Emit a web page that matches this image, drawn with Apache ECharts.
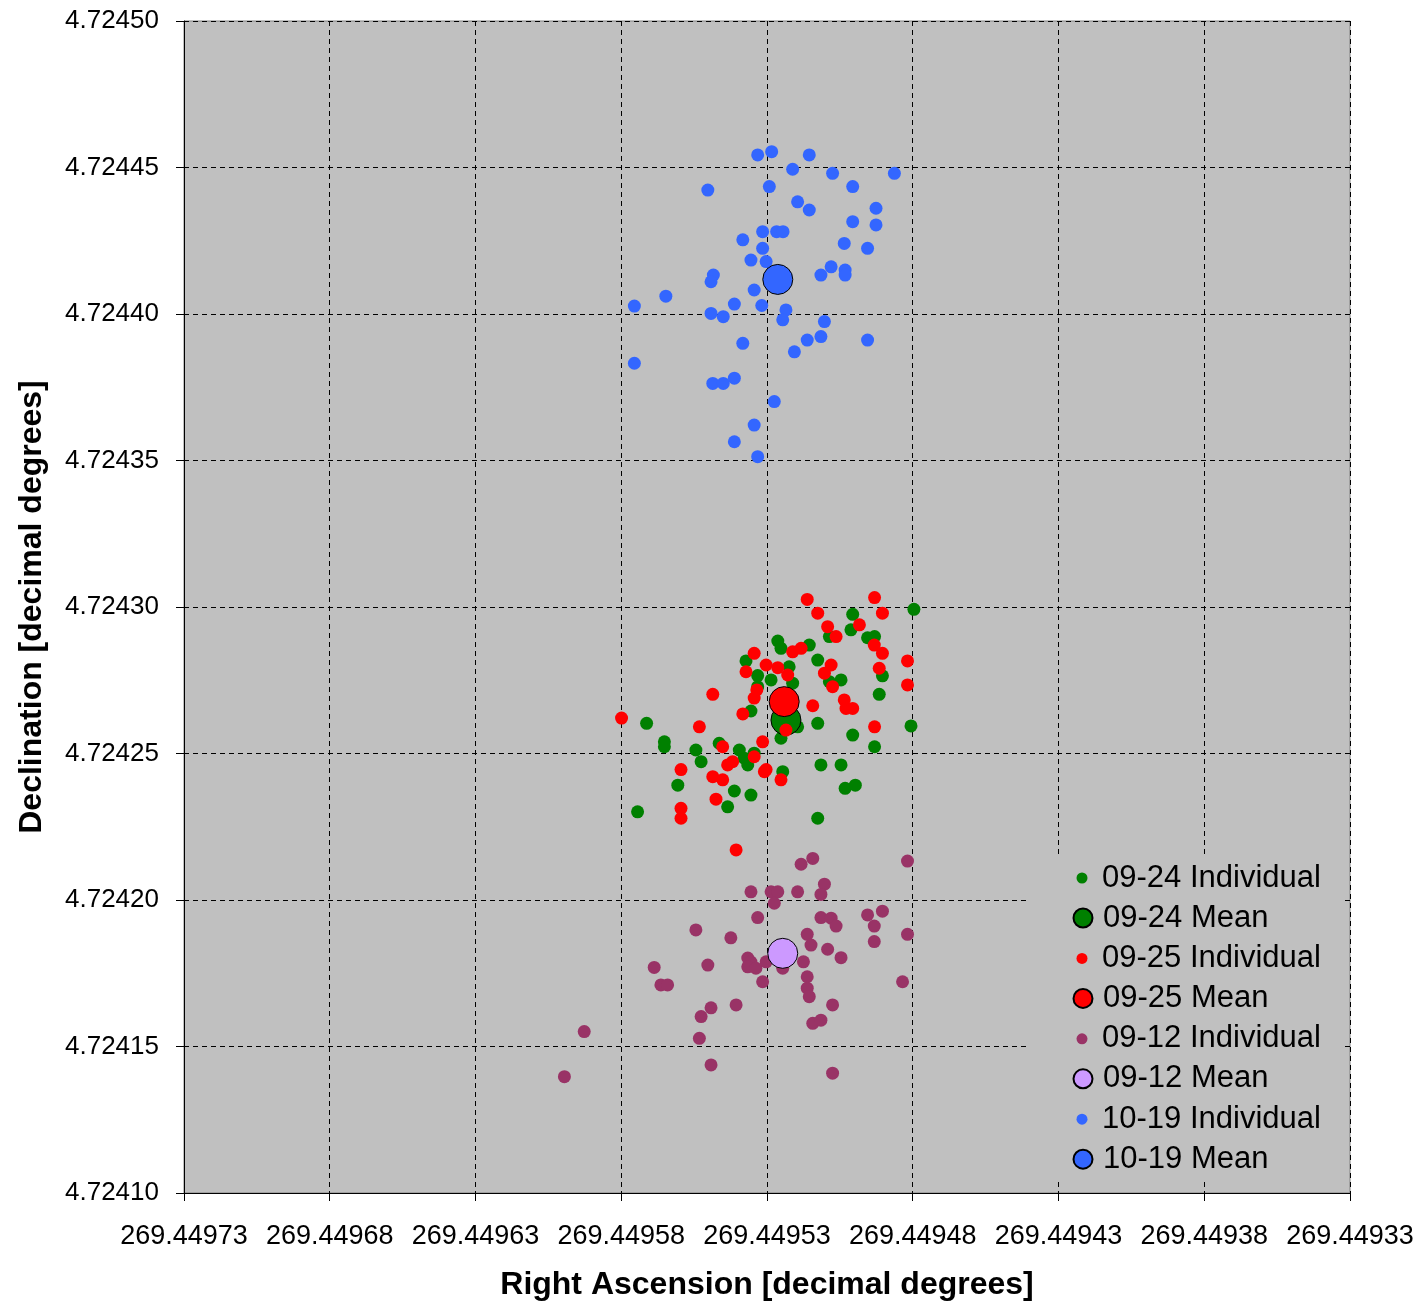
<!DOCTYPE html>
<html>
<head>
<meta charset="utf-8">
<script src="https://cdn.jsdelivr.net/npm/echarts@6/dist/echarts.min.js"></script>
<style>
html,body{margin:0;padding:0;background:#fff;}
#chart{width:1422px;height:1304px;}
</style>
</head>
<body>
<div id="chart"></div>
<script>
// ---- data: [Right Ascension, Declination] in decimal degrees ----
const seriesNames = ['09-24 Individual','09-24 Mean','09-25 Individual','09-25 Mean','09-12 Individual','09-12 Mean','10-19 Individual','10-19 Mean'];
const xTicks = [269.44933,269.44938,269.44943,269.44948,269.44953,269.44958,269.44963,269.44968,269.44973];
const yTicks = [4.72410,4.72415,4.72420,4.72425,4.72430,4.72435,4.72440,4.72445,4.72450];

const ind0924 = [
[269.4495006,4.7242975],[269.4494796,4.7242992],[269.4495012,4.7242922],[269.4495086,4.7242899],
[269.4494955,4.7242895],[269.4494931,4.7242899],[269.4495263,4.7242884],[269.4495252,4.7242859],
[269.4495155,4.7242870],[269.4495126,4.7242819],[269.4495372,4.7242816],[269.4495224,4.7242796],
[269.4495332,4.7242766],[269.4495286,4.7242751],[269.4495212,4.7242740],[269.4495046,4.7242751],
[269.4494904,4.7242765],[269.4495086,4.7242745],[269.4495332,4.7242728],[269.4494915,4.7242702],
[269.4495355,4.7242645],[269.4495713,4.7242603],[269.4495126,4.7242603],[269.4494806,4.7242594],
[269.4495195,4.7242591],[269.4495252,4.7242552],[269.4495006,4.7242563],[269.4495652,4.7242540],
[269.4495652,4.7242523],[269.4494931,4.7242523],[269.4495544,4.7242512],[269.4495464,4.7242535],
[269.4495395,4.7242512],[269.4495378,4.7242484],[269.4495366,4.7242461],[269.4495344,4.7242501],
[269.4495526,4.7242472],[269.4495115,4.7242461],[269.4495046,4.7242461],[269.4495246,4.7242438],
[269.4495606,4.7242392],[269.4495032,4.7242381],[269.4494997,4.7242392],[269.4495412,4.7242372],
[269.4495355,4.7242358],[269.4495435,4.7242318],[269.4495744,4.7242301],[269.4495126,4.7242279]
];
const mean0924 = [[269.4495235,4.7242614]];

const ind0925 = [
[269.4495162,4.7243026],[269.4494931,4.7243032],[269.4495126,4.7242979],[269.4494904,4.7242979],
[269.4495092,4.7242933],[269.4494983,4.7242939],[269.4495063,4.7242899],[269.4494932,4.7242870],
[269.4495344,4.7242842],[269.4495212,4.7242847],[269.4495183,4.7242859],[269.4494904,4.7242842],
[269.4494818,4.7242816],[269.4495303,4.7242802],[269.4495263,4.7242793],[269.4495080,4.7242802],
[269.4495103,4.7242774],[269.4494915,4.7242791],[269.4495372,4.7242779],[269.4495229,4.7242768],
[269.4494818,4.7242734],[269.4495075,4.7242728],[269.4495486,4.7242702],[269.4495344,4.7242689],
[269.4495335,4.7242717],[269.4495035,4.7242683],[269.4495029,4.7242654],[269.4495006,4.7242654],
[269.4495143,4.7242663],[269.4495799,4.7242621],[269.4495383,4.7242635],[269.4495532,4.7242591],
[269.4494931,4.7242591],[269.4495235,4.7242580],[269.4495315,4.7242540],[269.4495452,4.7242523],
[269.4495344,4.7242489],[269.4495418,4.7242472],[269.4495435,4.7242461],[269.4495595,4.7242445],
[269.4495303,4.7242445],[269.4495309,4.7242438],[269.4495486,4.7242421],[269.4495452,4.7242410],
[269.4495252,4.7242410],[269.4495475,4.7242344],[269.4495595,4.7242313],[269.4495595,4.7242279],
[269.4495406,4.7242171]
];
const mean0925 = [[269.4495241,4.7242677]];

const ind0912 = [
[269.4495143,4.7242142],[269.4495183,4.7242122],[269.4494818,4.7242133],[269.4495355,4.7242028],
[269.4495286,4.7242028],[269.4495263,4.7242028],[269.4495275,4.7241989],[269.4495195,4.7242028],
[269.4495103,4.7242054],[269.4495115,4.7242019],[269.4494955,4.7241949],[269.4494932,4.7241911],
[269.4494904,4.7241962],[269.4495332,4.7241940],[269.4495115,4.7241940],[269.4495080,4.7241938],
[269.4495063,4.7241911],[269.4495544,4.7241898],[269.4494818,4.7241883],[269.4495424,4.7241871],
[269.4494932,4.7241858],[269.4495162,4.7241883],[269.4495149,4.7241846],[269.4495092,4.7241832],
[269.4495046,4.7241803],[269.4495366,4.7241802],[269.4495355,4.7241788],[269.4495366,4.7241772],
[269.4495338,4.7241767],[269.4495303,4.7241789],[269.4495503,4.7241778],[269.4495687,4.7241770],
[269.4495175,4.7241789],[269.4495162,4.7241738],[269.4495162,4.7241699],[269.4495155,4.7241670],
[269.4495246,4.7241767],[269.4495315,4.7241721],[269.4494835,4.7241721],[269.4495664,4.7241710],
[269.4495641,4.7241710],[269.4495406,4.7241642],[269.4495492,4.7241632],[269.4495526,4.7241602],
[269.4495075,4.7241642],[269.4495143,4.7241579],[269.4495115,4.7241590],[269.4495927,4.7241551],
[269.4495532,4.7241528],[269.4495492,4.7241437],[269.4495995,4.7241397],[269.4495075,4.7241409]
];
const mean0912 = [[269.4495246,4.7241818]];

const ind1019 = [
[269.4495332,4.7244543],[269.4495284,4.7244554],[269.4495155,4.7244543],[269.4495212,4.7244494],
[269.4495075,4.7244480],[269.4494863,4.7244480],[269.4495503,4.7244423],[269.4495292,4.7244435],
[269.4495006,4.7244435],[269.4495195,4.7244383],[269.4495155,4.7244355],[269.4494926,4.7244361],
[269.4495006,4.7244315],[269.4494926,4.7244304],[269.4495315,4.7244281],[269.4495267,4.7244281],
[269.4495245,4.7244281],[269.4495383,4.7244253],[269.4495035,4.7244241],[269.4494955,4.7244224],
[269.4495315,4.7244224],[269.4495355,4.7244184],[269.4495303,4.7244179],[269.4495080,4.7244161],
[269.4495115,4.7244133],[269.4495032,4.7244150],[269.4495032,4.7244133],[269.4495484,4.7244133],
[269.4495492,4.7244110],[269.4495344,4.7244082],[269.4495647,4.7244061],[269.4495755,4.7244027],
[269.4495412,4.7244034],[269.4495318,4.7244029],[269.4495235,4.7244014],[269.4495492,4.7244002],
[269.4495450,4.7243991],[269.4495246,4.7243980],[269.4495103,4.7243974],[269.4495115,4.7243923],
[269.4495162,4.7243911],[269.4494955,4.7243911],[269.4495383,4.7243900],[269.4495206,4.7243871],
[269.4495755,4.7243832],[269.4495486,4.7243763],[269.4495450,4.7243763],[269.4495412,4.7243781],
[269.4495275,4.7243701],[269.4495344,4.7243621],[269.4495412,4.7243564],[269.4495332,4.7243513]
];
const mean1019 = [[269.4495263,4.7244118]];

const colors = ['#008000','#008000','#FF0000','#FF0000','#993366','#CC99FF','#3366FF','#3366FF'];

// ---- chart ----
const FONT = '"Liberation Sans", Arial, sans-serif';
const chart = echarts.init(document.getElementById('chart'), null, {renderer:'canvas'});
const dataSets = [ind0924, mean0924, ind0925, mean0925, ind0912, mean0912, ind1019, mean1019];

const series = dataSets.map((d, i) => {
  const isMean = i % 2 === 1;
  return {
    name: seriesNames[i],
    type: 'scatter',
    data: d,
    symbol: 'circle',
    symbolSize: isMean ? 30 : 13,
    itemStyle: isMean
      ? {color: colors[i], borderColor: '#000', borderWidth: 1, opacity: 1}
      : {color: colors[i], borderWidth: 0, opacity: 1},
    emphasis: {disabled: true},
    animation: false
  };
});

const legendText = {fontSize: 31, lineHeight: 34, color: '#000', fontFamily: FONT};

chart.setOption({
  backgroundColor: '#fff',
  animation: false,
  grid: {left: 184, right: 72, top: 21, bottom: 111, show: true,
         outerBoundsMode: 'none', containLabel: false,
         backgroundColor: '#C0C0C0', borderColor: '#808080', borderWidth: 1},
  xAxis: {
    type: 'value', inverse: true,
    min: xTicks[0], max: xTicks[xTicks.length-1], interval: 0.00005,
    name: 'Right Ascension [decimal degrees]', nameLocation: 'middle', nameGap: 76,
    nameTextStyle: {fontSize: 32, fontWeight: 'bold', color: '#000', fontFamily: FONT},
    axisLine: {show: true, onZero: false, lineStyle: {color: '#000', width: 1}},
    axisTick: {show: true, inside: false, length: 8, lineStyle: {color: '#000'}},
    axisLabel: {fontSize: 27, color: '#000', fontFamily: FONT, margin: 30,
                formatter: v => v.toFixed(5)},
    splitLine: {show: true, lineStyle: {color: '#000', type: [5,4], width: 1}}
  },
  yAxis: {
    type: 'value',
    min: yTicks[0], max: yTicks[yTicks.length-1], interval: 0.00005,
    name: 'Declination [decimal degrees]', nameLocation: 'middle', nameGap: 136,
    nameTextStyle: {fontSize: 32, fontWeight: 'bold', color: '#000', fontFamily: FONT},
    axisLine: {show: true, onZero: false, lineStyle: {color: '#000', width: 1}},
    axisTick: {show: true, inside: false, length: 8, lineStyle: {color: '#000'}},
    axisLabel: {fontSize: 26, color: '#000', fontFamily: FONT, margin: 25,
                formatter: v => v.toFixed(5)},
    splitLine: {show: true, lineStyle: {color: '#000', type: [5,4], width: 1}}
  },
  graphic: [{
    type: 'rect', z: 3, silent: true,
    shape: {x: 1027, y: 855, width: 314, height: 325},
    style: {fill: '#C0C0C0'}
  }],
  legend: [
    {
      data: [seriesNames[0], seriesNames[2], seriesNames[4], seriesNames[6]],
      orient: 'vertical', left: 1076.5, top: 861, padding: 0,
      itemWidth: 11, itemHeight: 11, itemGap: 46.4, icon: 'circle',
      selectedMode: false, z: 5,
      textStyle: Object.assign({padding: [0,0,0,9.5]}, legendText)
    },
    {
      data: [seriesNames[1], seriesNames[3], seriesNames[5], seriesNames[7]],
      orient: 'vertical', left: 1072.5, top: 901, padding: 0,
      itemWidth: 19, itemHeight: 19, itemGap: 46.4, icon: 'circle',
      selectedMode: false, z: 5,
      textStyle: Object.assign({padding: [0,0,0,5.5]}, legendText)
    }
  ],
  series: series
});
</script>
</body>
</html>
